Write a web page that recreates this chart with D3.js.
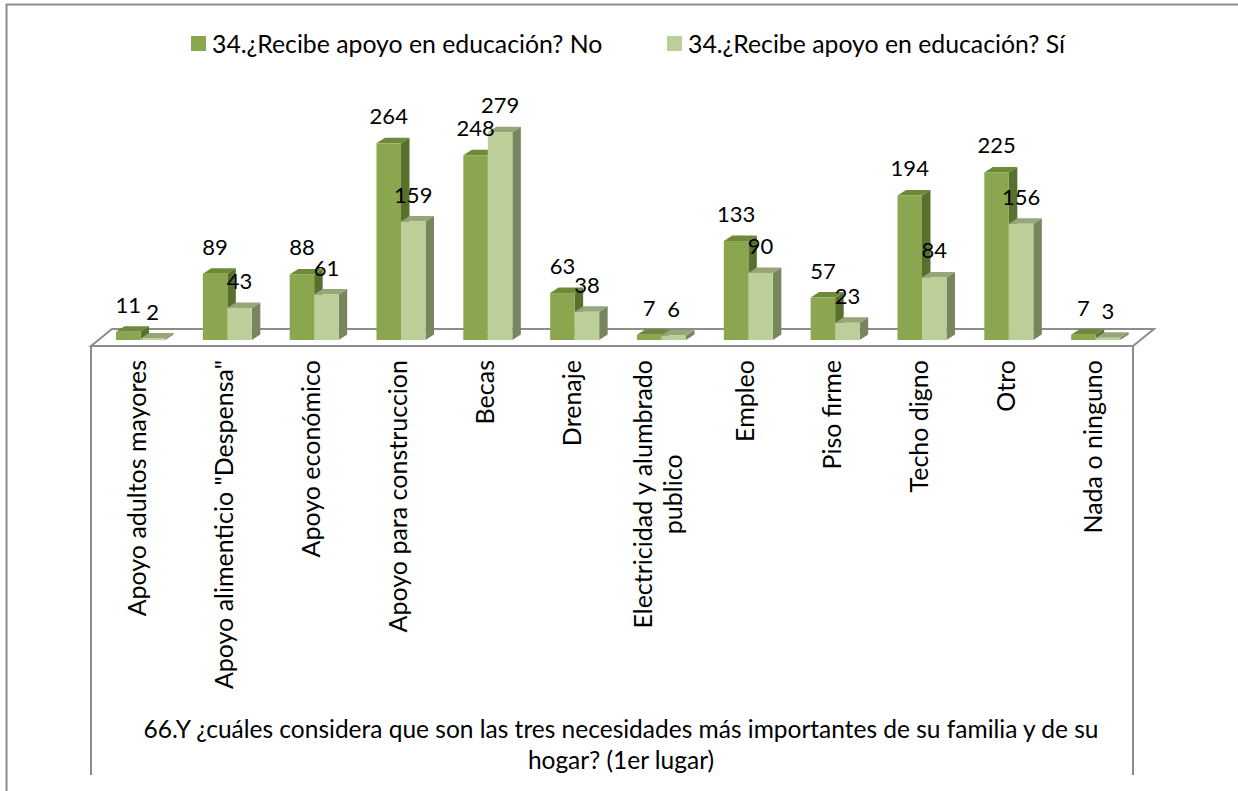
<!DOCTYPE html>
<html>
<head>
<meta charset="utf-8">
<script src="https://cdn.jsdelivr.net/npm/d3@7/dist/d3.min.js"></script>
<style>
  html, body { margin: 0; padding: 0; background: #fff; }
  svg { display: block; }
  text { font-family: Lato, "Open Sans", sans-serif; fill: #000; }
</style>
</head>
<body>
<svg id="chart" width="1238" height="791"></svg>
<script>
// Categories (answer to question 66) and counts for each education-support group
const categories = [
  "Apoyo adultos mayores",
  "Apoyo alimenticio \"Despensa\"",
  "Apoyo económico",
  "Apoyo para construccion",
  "Becas",
  "Drenaje",
  "Electricidad y alumbrado publico",
  "Empleo",
  "Piso firme",
  "Techo digno",
  "Otro",
  "Nada o ninguno"
];
const seriesNames = [
  "34.¿Recibe apoyo en educación? No",
  "34.¿Recibe apoyo en educación? Sí"
];
const valuesNo = [11, 89, 88, 264, 248, 63, 7, 133, 57, 194, 225, 7];
const valuesSi = [2, 43, 61, 159, 279, 38, 6, 90, 23, 84, 156, 3];
const titleLines = [
  "66.Y ¿cuáles considera que son las tres necesidades más importantes de su familia y de su",
  "hogar? (1er lugar)"
];

const svg = d3.select("#chart");

// Outer frame of the chart area
svg.append("rect")
  .attr("x", 6.5).attr("y", 4.5)
  .attr("width", 1260).attr("height", 820)
  .attr("fill", "none").attr("stroke", "#8c8c8c").attr("stroke-width", 2);

// Floor geometry (perspective plane)
const floorL = 91, floorR = 1133, floorFront = 346;
const floorDX = 21, floorDY = -17;
const baseY = 340;               // bottom of bar fronts
const barDX = 8.5, barDY = -5.5; // bar depth

const x = d3.scaleBand().domain(categories).range([floorL, floorR]).paddingInner(0).paddingOuter(0);
const inner = d3.scaleBand().domain([0, 1]).range([25, 74]).padding(0);
const y = d3.scaleLinear().domain([0, 300]).range([baseY, baseY - 0.745 * 300]);

// Floor
svg.append("path")
  .attr("d", `M${floorL},${floorFront} L${floorL + floorDX},${floorFront + floorDY} L${floorR + floorDX},${floorFront + floorDY} L${floorR},${floorFront} Z`)
  .attr("fill", "#fff").attr("stroke", "#8c8c8c").attr("stroke-width", 2)
  .attr("stroke-linejoin", "miter");

// Front vertical guide lines below the floor
[floorL, floorR].forEach(xx => {
  svg.append("line")
    .attr("x1", xx).attr("x2", xx)
    .attr("y1", floorFront).attr("y2", 775)
    .attr("stroke", "#8c8c8c").attr("stroke-width", 2);
});

const palette = [
  { front: "#8aa64e", top: "#6c8a37", side: "#58702e" },
  { front: "#bccf98", top: "#96a679", side: "#788660" }
];

const series = [valuesNo, valuesSi];
const bars = [];
categories.forEach((c, i) => {
  series.forEach((vals, s) => {
    bars.push({ cat: c, s, v: vals[i] });
  });
});

const gBars = svg.append("g");
const bw = inner.bandwidth();

bars.forEach(d => {
  const x0 = x(d.cat) + inner(d.s);
  const x1 = x0 + bw;
  const yt = y(d.v);
  const col = palette[d.s];
  const g = gBars.append("g");
  // side face
  g.append("path")
    .attr("d", `M${x1},${baseY} L${x1 + barDX},${baseY + barDY} L${x1 + barDX},${yt + barDY} L${x1},${yt} Z`)
    .attr("fill", col.side);
  // top face
  g.append("path")
    .attr("d", `M${x0},${yt} L${x0 + barDX},${yt + barDY} L${x1 + barDX},${yt + barDY} L${x1},${yt} Z`)
    .attr("fill", col.top);
  // front face
  g.append("rect")
    .attr("x", x0).attr("y", yt)
    .attr("width", bw).attr("height", baseY - yt)
    .attr("fill", col.front);
});

// Value labels
svg.append("g").selectAll("text")
  .data(bars)
  .join("text")
  .attr("x", d => x(d.cat) + inner(d.s) + bw / 2)
  .attr("y", d => y(d.v) - 19)
  .attr("text-anchor", "middle")
  .attr("font-size", 22)
  .text(d => d.v);

// Category labels, rotated; multi-line labels are centred on their longest line
const wraps = { "Electricidad y alumbrado publico": ["Electricidad y alumbrado", "publico"] };
const catSize = 25;
const gCat = svg.append("g");
categories.forEach(c => {
  const lines = wraps[c] || [c];
  const cx = x(c) + x.bandwidth() / 2;
  const lh = 30;
  const g = gCat.append("g");
  const texts = lines.map((ln, k) => {
    const off = (k - (lines.length - 1) / 2) * lh;
    return g.append("text")
      .attr("font-size", catSize)
      .attr("data-off", off)
      .text(ln);
  });
  const widths = texts.map(t => t.node().getComputedTextLength());
  const maxW = d3.max(widths);
  texts.forEach((t, k) => {
    const off = +t.attr("data-off");
    const shift = (maxW - widths[k]) / 2;
    t.attr("text-anchor", "end")
      .attr("transform", `translate(${cx + off + 12},${360 + shift}) rotate(-90)`);
  });
});

// Axis title
svg.append("g").selectAll("text")
  .data(titleLines)
  .join("text")
  .attr("x", 621)
  .attr("y", (d, i) => 738 + i * 31)
  .attr("text-anchor", "middle")
  .attr("font-size", 24.5)
  .text(d => d);

// Legend
const legendX = [191, 667];
const gLeg = svg.append("g");
seriesNames.forEach((n, i) => {
  gLeg.append("rect")
    .attr("x", legendX[i]).attr("y", 36)
    .attr("width", 15).attr("height", 15)
    .attr("fill", palette[i].front);
  gLeg.append("text")
    .attr("x", legendX[i] + 21).attr("y", 53)
    .attr("font-size", 24.8)
    .text(n);
});
</script>
</body>
</html>
